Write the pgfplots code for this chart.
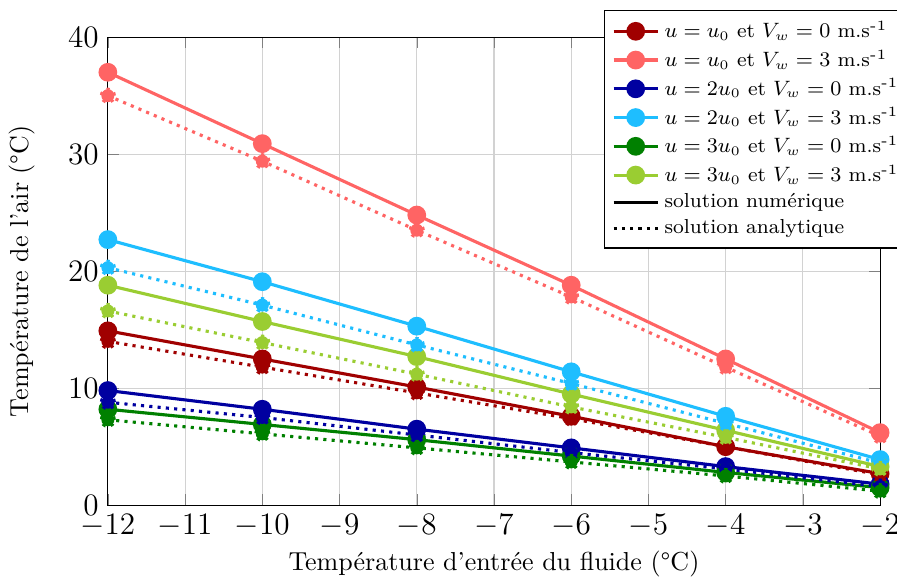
\documentclass[border=0pt]{standalone}
\usepackage{fontspec}
\usepackage{pgfplots}
\pgfplotsset{compat=1.18}
\definecolor{cA}{RGB}{160,0,0}
\definecolor{cB}{RGB}{255,100,100}
\definecolor{cC}{RGB}{0,0,160}
\definecolor{cD}{RGB}{30,190,255}
\definecolor{cE}{RGB}{0,128,0}
\definecolor{cF}{RGB}{154,205,50}
\begin{document}
\begin{tikzpicture}
\begin{axis}[
  name=ax,
  scale only axis,
  width=297pt, height=180pt,
  xmin=-12, xmax=-2, ymin=0, ymax=40,
  xtick={-12,-11,...,-2}, ytick={0,10,20,30,40},
  tick label style={font=\large},
  grid=major, grid style={gray!35},
  xlabel={Température d'entrée du fluide (°C)},
  ylabel={Température de l'air (°C)},
  ylabel shift=6pt,
  xlabel shift=-1.5pt,
  legend style={at={(0.642,1.058)}, anchor=north west, font=\fontsize{7.8}{9.4}\selectfont, cells={anchor=west}, row sep=-0.9pt},
  every axis plot/.append style={very thick},
]
\addplot[cA, mark=*, mark size=3pt] coordinates {(-12,14.9) (-10,12.5) (-8,10.1) (-6,7.6) (-4,5.0) (-2,2.7)};
\addlegendentry{$u=u_0$ et $V_w=0$ m.s\textsuperscript{-1}}
\addplot[cB, mark=*, mark size=3pt] coordinates {(-12,37.0) (-10,30.9) (-8,24.8) (-6,18.8) (-4,12.5) (-2,6.2)};
\addlegendentry{$u=u_0$ et $V_w=3$ m.s\textsuperscript{-1}}
\addplot[cC, mark=*, mark size=3pt] coordinates {(-12,9.8) (-10,8.2) (-8,6.5) (-6,4.9) (-4,3.3) (-2,1.8)};
\addlegendentry{$u=2u_0$ et $V_w=0$ m.s\textsuperscript{-1}}
\addplot[cD, mark=*, mark size=3pt] coordinates {(-12,22.7) (-10,19.1) (-8,15.3) (-6,11.4) (-4,7.6) (-2,3.9)};
\addlegendentry{$u=2u_0$ et $V_w=3$ m.s\textsuperscript{-1}}
\addplot[cE, mark=*, mark size=3pt] coordinates {(-12,8.2) (-10,6.9) (-8,5.6) (-6,4.2) (-4,2.8) (-2,1.5)};
\addlegendentry{$u=3u_0$ et $V_w=0$ m.s\textsuperscript{-1}}
\addplot[cF, mark=*, mark size=3pt] coordinates {(-12,18.8) (-10,15.7) (-8,12.7) (-6,9.5) (-4,6.4) (-2,3.3)};
\addlegendentry{$u=3u_0$ et $V_w=3$ m.s\textsuperscript{-1}}
\addlegendimage{black, very thick}
\addlegendentry{solution numérique}
\addlegendimage{black, very thick, dotted}
\addlegendentry{solution analytique}
\addplot[cA, dotted, mark=*, mark size=2.5pt, forget plot] coordinates {(-12,14.0) (-10,11.8) (-8,9.6) (-6,7.4) (-4,5.0) (-2,2.6)};
\addplot[cB, dotted, mark=*, mark size=2.5pt, forget plot] coordinates {(-12,35.0) (-10,29.4) (-8,23.5) (-6,17.8) (-4,11.8) (-2,5.9)};
\addplot[cC, dotted, mark=*, mark size=2.5pt, forget plot] coordinates {(-12,8.8) (-10,7.5) (-8,6.0) (-6,4.5) (-4,3.1) (-2,1.6)};
\addplot[cD, dotted, mark=*, mark size=2.5pt, forget plot] coordinates {(-12,20.3) (-10,17.1) (-8,13.7) (-6,10.4) (-4,7.0) (-2,3.6)};
\addplot[cE, dotted, mark=*, mark size=2.5pt, forget plot] coordinates {(-12,7.3) (-10,6.1) (-8,4.9) (-6,3.7) (-4,2.5) (-2,1.2)};
\addplot[cF, dotted, mark=*, mark size=2.5pt, forget plot] coordinates {(-12,16.6) (-10,13.9) (-8,11.2) (-6,8.4) (-4,5.8) (-2,3.1)};
\end{axis}
\pgfresetboundingbox
\path (ax.outer south west) rectangle ([xshift=6.5pt, yshift=14.3pt]ax.north east);
\end{tikzpicture}
\end{document}
